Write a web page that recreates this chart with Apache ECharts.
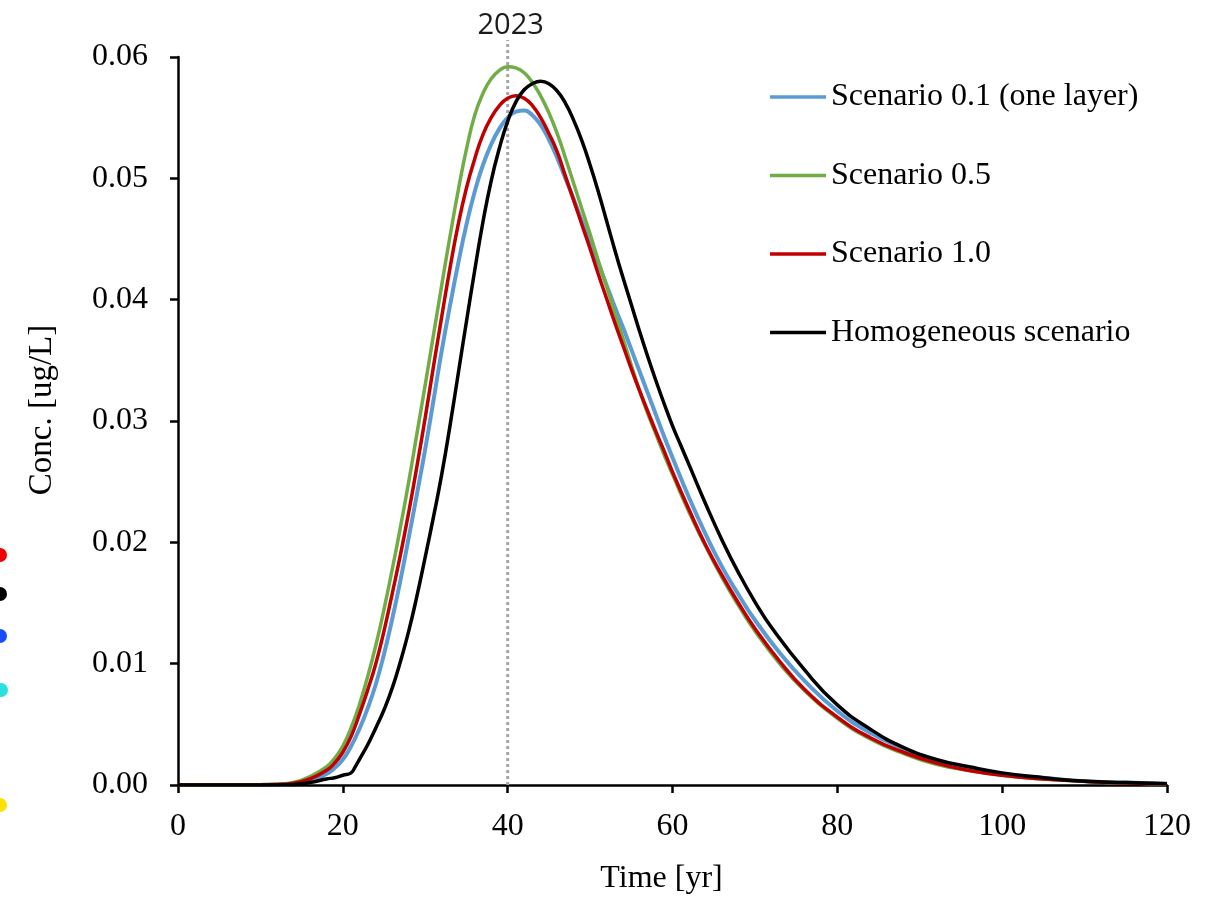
<!DOCTYPE html>
<html>
<head>
<meta charset="utf-8">
<script src="https://cdn.jsdelivr.net/npm/echarts@6/dist/echarts.min.js"></script>
<style>
  html, body { margin: 0; padding: 0; background: #fff; }
  #chart { width: 1216px; height: 900px; }
</style>
</head>
<body>
<div id="chart"></div>
<script>
// Concentration breakthrough curves, [time (yr), concentration (ug/L)]
const scenario01 = [
  [0, 0], [10, 0.00001], [12, 0.00003], [14, 0.0001], [16, 0.0003], [18, 0.0009],
  [19, 0.0014], [20, 0.0021], [21, 0.0032], [22, 0.0046], [23, 0.0063], [24, 0.0083],
  [25, 0.0108], [26, 0.0137], [27, 0.0169], [28, 0.0204], [29, 0.0240], [30, 0.0277],
  [31, 0.0317], [32, 0.0358], [33, 0.0395], [34, 0.0430], [35, 0.0462], [36, 0.0489],
  [37, 0.0511], [38, 0.0528], [39, 0.0541], [40, 0.0550], [41, 0.0555], [42, 0.0556],
  [43, 0.0552], [44, 0.0544], [45, 0.0532], [46, 0.0517], [47, 0.0500], [48, 0.0483],
  [49, 0.0465], [50, 0.0448], [51, 0.0430], [52, 0.0412], [53, 0.0394], [54, 0.0377],
  [55, 0.0359], [56, 0.0341], [57, 0.0323], [58, 0.0305], [59, 0.0287], [60, 0.0270],
  [62, 0.0237], [64, 0.0207], [66, 0.0180], [68, 0.0157], [70, 0.0136], [73, 0.0109],
  [76, 0.0086], [80, 0.0061], [84, 0.0043], [88, 0.0030], [92, 0.0020], [96, 0.0014],
  [100, 0.0009], [105, 0.0006], [110, 0.0003], [115, 0.0002], [120, 0.0001]
];
const scenario05 = [
  [0, 0], [10, 0.00002], [12, 0.00006], [14, 0.0002], [16, 0.0007], [18, 0.0015],
  [19, 0.0022], [20, 0.0032], [21, 0.0047], [22, 0.0066], [23, 0.0089], [24, 0.0115],
  [25, 0.0145], [26, 0.0178], [27, 0.0213], [28, 0.0250], [29, 0.0290], [30, 0.0330],
  [31, 0.0371], [32, 0.0412], [33, 0.0452], [34, 0.0490], [35, 0.0524], [36, 0.0552],
  [37, 0.0570], [38, 0.0582], [39, 0.0589], [40, 0.0592], [41, 0.0591], [42, 0.0587],
  [43, 0.0579], [44, 0.0568], [45, 0.0554], [46, 0.0537], [47, 0.0517], [48, 0.0496],
  [49, 0.0475], [50, 0.0454], [51, 0.0432], [52, 0.0411], [53, 0.0389], [54, 0.0368],
  [55, 0.0346], [56, 0.0325], [57, 0.0306], [58, 0.0289], [59, 0.0272], [60, 0.0256],
  [62, 0.0225], [64, 0.0197], [66, 0.0171], [68, 0.0148], [70, 0.0127], [73, 0.0100],
  [76, 0.0078], [80, 0.0055], [84, 0.0038], [88, 0.0026], [92, 0.0017], [96, 0.0012],
  [100, 0.0008], [105, 0.0005], [110, 0.0003], [115, 0.00016], [120, 0.0001]
];
const scenario10 = [
  [0, 0], [10, 0.00001], [12, 0.00005], [14, 0.00015], [16, 0.0005], [18, 0.0012],
  [19, 0.0018], [20, 0.0027], [21, 0.0040], [22, 0.0058], [23, 0.0078], [24, 0.0100],
  [25, 0.0127], [26, 0.0158], [27, 0.0190], [28, 0.0225], [29, 0.0263], [30, 0.0303],
  [31, 0.0345], [32, 0.0386], [33, 0.0426], [34, 0.0462], [35, 0.0492], [36, 0.0516],
  [37, 0.0536], [38, 0.0550], [39, 0.0560], [40, 0.0566], [41, 0.0568], [42, 0.0566],
  [43, 0.0560], [44, 0.0550], [45, 0.0537], [46, 0.0522], [47, 0.0502], [48, 0.0482],
  [49, 0.0462], [50, 0.0442], [51, 0.0421], [52, 0.0401], [53, 0.0381], [54, 0.0362],
  [55, 0.0343], [56, 0.0325], [57, 0.0308], [58, 0.0291], [59, 0.0275], [60, 0.0258],
  [62, 0.0227], [64, 0.0198], [66, 0.0173], [68, 0.0150], [70, 0.0129], [73, 0.0102],
  [76, 0.0079], [80, 0.0056], [84, 0.0039], [88, 0.0027], [92, 0.0018], [96, 0.0012],
  [100, 0.0008], [105, 0.0005], [110, 0.0003], [115, 0.00016], [120, 0.0001]
];
const homogeneous = [
  [0, 0], [10, 0], [14, 0.00005], [16, 0.0002], [18, 0.0005], [19, 0.0006], [20, 0.0008],
  [21, 0.0010], [21.5, 0.0015], [22, 0.0021], [23, 0.0033], [24, 0.0047], [25, 0.0062],
  [26, 0.0080], [27, 0.0102], [28, 0.0127], [29, 0.0156], [30, 0.0188], [31, 0.0221],
  [32, 0.0256], [33, 0.0296], [34, 0.0339], [35, 0.0382], [36, 0.0424], [37, 0.0464],
  [38, 0.0498], [39, 0.0525], [40, 0.0547], [41, 0.0563], [42, 0.0573], [43, 0.0578],
  [44, 0.0580], [45, 0.0578], [46, 0.0572], [47, 0.0562], [48, 0.0548], [49, 0.0531],
  [50, 0.0511], [51, 0.0489], [52, 0.0465], [53, 0.0441], [54, 0.0418], [55, 0.0396],
  [56, 0.0374], [57, 0.0353], [58, 0.0333], [59, 0.0314], [60, 0.0296], [61, 0.0280],
  [62, 0.0264], [64, 0.0232], [66, 0.0202], [68, 0.0175], [70, 0.0151], [72, 0.0130],
  [76, 0.0095], [80, 0.0066], [84, 0.0046], [88, 0.0031], [92, 0.0021], [96, 0.0015],
  [100, 0.0010], [105, 0.0006], [110, 0.0003], [115, 0.0002], [120, 0.0001]
];

const seriesNames = ['Scenario 0.1 (one layer)', 'Scenario 0.5', 'Scenario 1.0', 'Homogeneous scenario'];
const seriesColors = ['#5B9BD5', '#70AD47', '#C00000', '#000000'];
const seriesWidths = [4, 3.5, 3.5, 3.5];
const seriesData = [scenario01, scenario05, scenario10, homogeneous];

// Reference year marker
const markerYear = [40];
const markerLabel = '2023';

const serif = '"Liberation Serif", "Times New Roman", serif';

const chart = echarts.init(document.getElementById('chart'), null, { renderer: 'canvas' });

const lineSeries = seriesData.map((d, i) => ({
  name: seriesNames[i],
  type: 'line',
  data: d,
  symbol: 'none',
  smooth: 0.5,
  color: seriesColors[i],
  lineStyle: { color: seriesColors[i], width: seriesWidths[i] },
  z: 3 + i
}));

const markerSeries = {
  type: 'custom',
  data: markerYear.map(y => [y]),
  clip: false,
  silent: true,
  z: 2,
  renderItem: function (params, api) {
    const x = api.value(0);
    const p0 = api.coord([x, 0]);
    const p1 = api.coord([x, 0.06]);
    return {
      type: 'group',
      children: [
        {
          type: 'line',
          shape: { x1: p0[0], y1: p0[1], x2: p1[0], y2: p1[1] - 17 },
          style: { stroke: '#A6A6A6', lineWidth: 3, lineDash: [3, 3] }
        },
        {
          type: 'text',
          style: {
            x: p1[0] + 3, y: p1[1] - 31,
            text: markerLabel,
            fill: '#1a1a1a',
            font: '29px "Open Sans", "DejaVu Sans", sans-serif',
            align: 'center', verticalAlign: 'middle'
          }
        }
      ]
    };
  }
};

const option = {
  backgroundColor: '#fff',
  animation: false,
  grid: { left: 178, right: 49, top: 57, bottom: 114, containLabel: false },
  legend: {
    data: seriesNames,
    orient: 'vertical',
    icon: 'rect',
    left: 770,
    top: 81,
    padding: 0,
    itemWidth: 56,
    itemHeight: 3.5,
    itemGap: 46.5,
    textStyle: { fontFamily: serif, fontSize: 32, color: '#000', lineHeight: 32 }
  },
  xAxis: {
    type: 'value',
    min: 0, max: 120, interval: 20,
    name: 'Time [yr]',
    nameLocation: 'middle',
    nameGap: 78,
    nameTextStyle: { fontFamily: serif, fontSize: 32, color: '#000', padding: [0, 22, 0, 0] },
    axisLine: { lineStyle: { color: '#000', width: 2.5 } },
    axisTick: { show: true, inside: false, length: 8, lineStyle: { color: '#000', width: 2.5 } },
    axisLabel: { fontFamily: serif, fontSize: 32, color: '#000', margin: 26 },
    splitLine: { show: false }
  },
  yAxis: {
    type: 'value',
    min: 0, max: 0.06, interval: 0.01,
    name: 'Conc. [ug/L]',
    nameLocation: 'middle',
    nameGap: 119,
    nameRotate: 90,
    nameTextStyle: { fontFamily: serif, fontSize: 33, color: '#000', padding: [0, 0, 0, 22] },
    axisLine: { show: true, lineStyle: { color: '#000', width: 2.5 } },
    axisTick: { show: true, inside: false, length: 8, lineStyle: { color: '#000', width: 2.5 } },
    axisLabel: { fontFamily: serif, fontSize: 32, color: '#000', margin: 30, formatter: v => v.toFixed(2) },
    splitLine: { show: false }
  },
  graphic: [
    { type: 'circle', shape: { cx: 0, cy: 555, r: 7 }, style: { fill: '#F00000' } },
    { type: 'circle', shape: { cx: 0, cy: 594, r: 7 }, style: { fill: '#000000' } },
    { type: 'circle', shape: { cx: 0, cy: 636, r: 7 }, style: { fill: '#1A4BFF' } },
    { type: 'circle', shape: { cx: 1, cy: 690, r: 7 }, style: { fill: '#2CE0E0' } },
    { type: 'circle', shape: { cx: 0, cy: 805, r: 7 }, style: { fill: '#FFE000' } }
  ],
  series: [markerSeries].concat(lineSeries)
};

chart.setOption(option);
</script>
</body>
</html>
